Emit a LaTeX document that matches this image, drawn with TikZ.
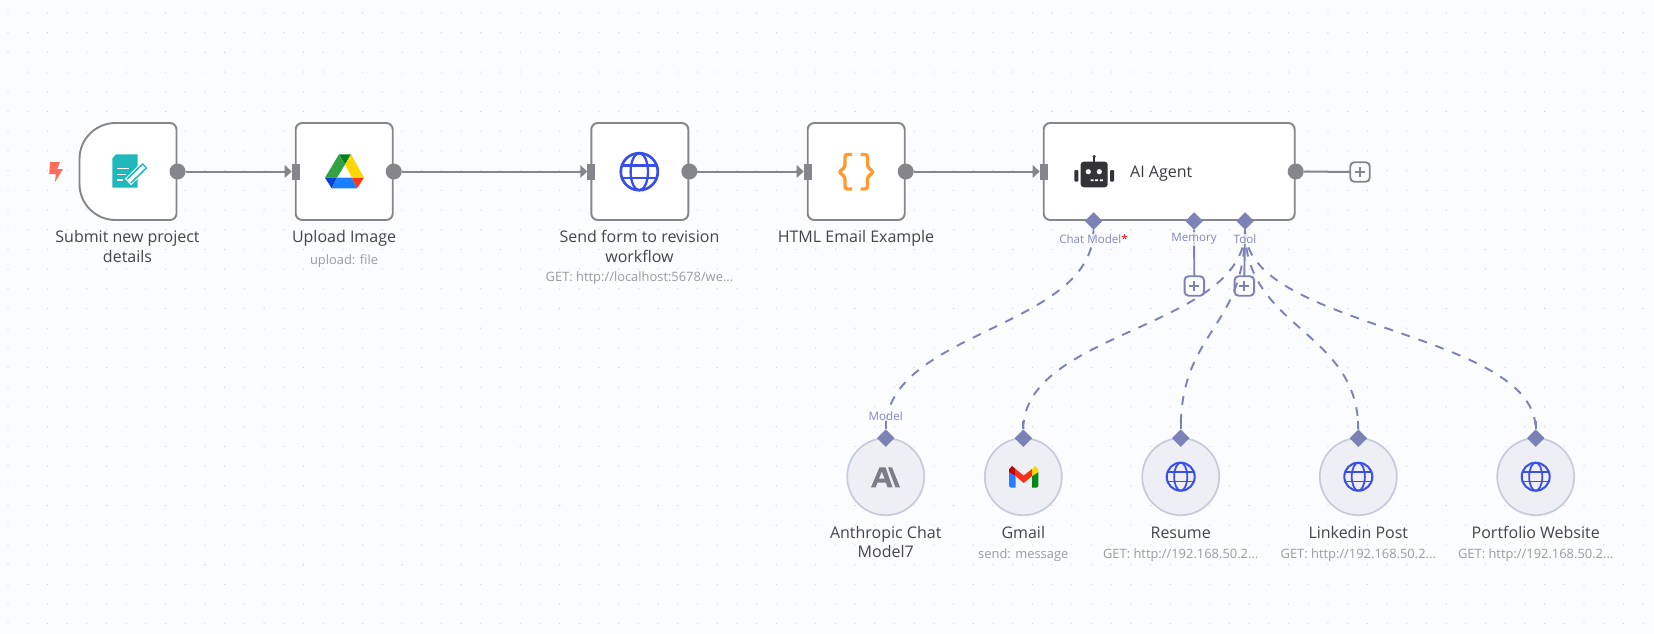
\documentclass[tikz,border=0pt]{standalone}
\usepackage{fontspec}
\setmainfont{Open Sans}
\usetikzlibrary{arrows.meta,shapes.geometric,calc}
\definecolor{bgc}{HTML}{FBFCFE}
\definecolor{griddot}{HTML}{CDD0D6}
\definecolor{edgec}{HTML}{85858C}
\definecolor{portc}{HTML}{7C82B6}
\definecolor{txtc}{HTML}{44444A}
\definecolor{subc}{HTML}{9A9AA1}
\definecolor{labc}{HTML}{8287BC}
\definecolor{circf}{HTML}{EEEFF4}
\definecolor{circd}{HTML}{C6CBDB}
\definecolor{globec}{HTML}{3A4EE8}
\definecolor{teal1}{HTML}{1FB9BC}
\definecolor{boltc}{HTML}{FF6D5A}
\definecolor{bracec}{HTML}{FF9B2E}
\definecolor{robotc}{HTML}{333338}
\definecolor{anthc}{HTML}{7D7D87}
\tikzset{
 card/.style={draw=edgec,line width=1.9pt,fill=white,rounded corners=6.5pt,minimum height=97pt,inner sep=0pt,outer sep=0pt},
 outport/.style={circle,fill=edgec,minimum size=16pt,inner sep=0pt,outer sep=0pt},
 inport/.style={rectangle,fill=edgec,minimum width=8pt,minimum height=16pt,inner sep=0pt,outer sep=0pt},
 flow/.style={draw=edgec,line width=2pt,-{Triangle[length=7pt,width=12.5pt,fill=edgec]}},
 dia/.style={diamond,aspect=1,fill=portc,minimum size=17.5pt,inner sep=0pt,outer sep=0pt},
 dashc/.style={draw=portc,line width=1.9pt,dash pattern=on 9pt off 9pt},
 solidc/.style={draw=portc,line width=1.9pt},
 tool/.style={circle,draw=circd,fill=circf,line width=1.7pt,minimum size=77pt,inner sep=0pt,outer sep=0pt},
 plusbox/.style={rectangle,draw=#1,fill=bgc,line width=1.9pt,rounded corners=4pt,minimum size=19.5pt,inner sep=0pt,outer sep=0pt,
   path picture={\draw[#1,line width=1.9pt] (path picture bounding box.center) ++(-5pt,0pt) -- ++(10pt,0pt);
                 \draw[#1,line width=1.9pt] (path picture bounding box.center) ++(0pt,-5pt) -- ++(0pt,10pt);}},
 lab/.style={text=txtc,align=center,inner sep=0pt,font=\fontsize{16}{19.6}\selectfont},
 sublab/.style={text=subc,inner sep=0pt,font=\fontsize{12.9}{15}\selectfont},
 portlab/.style={text=labc,inner sep=1pt,font=\fontsize{11.6}{14}\selectfont,fill=bgc,fill opacity=.75,text opacity=1},
}
\newcommand{\globeicon}[3]{%
 \begin{scope}[shift={(#1,#2)}]
  \draw[globec,line width=#3*0.145pt] (0,0) circle[radius=#3 pt];
  \draw[globec,line width=#3*0.125pt] (0,0) ellipse[x radius=#3*0.47pt,y radius=#3 pt];
  \draw[globec,line width=#3*0.125pt] (-#3*0.92,-#3*0.34) -- (#3*0.92,-#3*0.34);
  \draw[globec,line width=#3*0.125pt] (-#3*0.92,#3*0.34) -- (#3*0.92,#3*0.34);
 \end{scope}}
\begin{document}
\begin{tikzpicture}[x=1pt,y=-1pt]
\useasboundingbox (0,0) rectangle (1654,634);
\fill[bgc] (0,0) rectangle (1654,634);
% dotted grid
\foreach \i in {0,...,83}{\foreach \j in {0,...,31}{
 \fill[griddot] ({8+19.7*\i},{13+19.7*\j}) circle[radius=0.65pt];}}
% cards
\node[minimum width=97pt,minimum height=97pt,inner sep=0pt,outer sep=0pt] (n1) at (128,171.5) {};
\draw[draw=edgec,line width=1.9pt,fill=white]
 (176.5,129.5) -- (176.5,213.5) .. controls (176.5,217.1) and (173.6,220) .. (170,220)
 -- (115.5,220) .. controls (95.6,220) and (79.5,203.9) .. (79.5,184)
 -- (79.5,159) .. controls (79.5,139.1) and (95.6,123) .. (115.5,123)
 -- (170,123) .. controls (173.6,123) and (176.5,125.9) .. (176.5,129.5) -- cycle;
\node[card,minimum width=97pt] (n2) at (344.2,171.5) {};
\node[card,minimum width=97pt] (n3) at (639.8,171.5) {};
\node[card,minimum width=97pt] (n4) at (856.2,171.5) {};
\node[card,minimum width=251pt] (n5) at (1169.2,171.5) {};
% ports
\node[outport] (n1o) at ($(n1.east)+(1,0)$) {};
\node[outport] (n2o) at ($(n2.east)+(1,0)$) {};
\node[outport] (n3o) at ($(n3.east)+(1,0)$) {};
\node[outport] (n4o) at ($(n4.east)+(1,0)$) {};
\node[outport] (n5o) at ($(n5.east)+(1,0)$) {};
\node[inport] (n2i) at (n2.west) {};
\node[inport] (n3i) at (n3.west) {};
\node[inport] (n4i) at (n4.west) {};
\node[inport] (n5i) at (n5.west) {};
\draw[flow] (n1o) -- (n2i);
\draw[flow] (n2o) -- (n3i);
\draw[flow] (n3o) -- (n4i);
\draw[flow] (n4o) -- (n5i);
\node[plusbox=edgec] (pout) at (1360,172) {};
\draw[draw=edgec,line width=2pt] (n5o) -- (pout);
% bolt
\fill[boltc] (50,162) -- (60,162) -- (57.3,169) -- (63,169) -- (55,182) -- (55.8,174) -- (49.2,174) -- cycle;
% form icon
\fill[teal1] (116,154.3) -- (137.7,154.3) -- (137.7,187.7) -- (112.3,187.7) -- (112.3,158.5) -- cycle;
\fill[white] (112.3,154.3) -- (114.5,154.3) -- (112.3,156.5) -- cycle;
\draw[white,line width=1.6pt] (117,168.3) -- (129,168.3) (117,174.3) -- (126,174.3) (117,180) -- (123,180);
\draw[white,line width=9pt] (128,182) -- (145,165.5);
\draw[teal1,line width=7pt] (129,181) -- (145,165.5);
\draw[white,line width=3.6pt] (128.5,181.5) -- (144,166.5);
% drive icon
\fill[green!50!black!70!teal] (339,154.3) -- (351,154.3) -- (345,164.5) -- cycle;
\fill[green!55!black!85!teal!80!white] (339,154.3) -- (345,164.5) -- (337,177.7) -- (325,177.7) -- cycle;
\fill[blue!70!cyan!85!black] (325,177.7) -- (337,177.7) -- (331.7,188.3) -- cycle;
\fill[blue!55!cyan!90!white] (337,177.7) -- (352,177.7) -- (357,188.3) -- (331.7,188.3) -- cycle;
\fill[red!75!orange!90!white] (352,177.7) -- (364,177.7) -- (357,188.3) -- cycle;
\fill[yellow!75!orange] (351,154.3) -- (364,177.7) -- (352,177.7) -- (345,164.5) -- cycle;
% globe
\globeicon{639.3}{171.7}{18.5}
% braces
\draw[bracec,line width=3.4pt,rounded corners=2.5pt]
 (852,154.5) -- (845,154.5) -- (845,167) -- (839,172) -- (845,177) -- (845,189) -- (852,189);
\draw[bracec,line width=3.4pt,rounded corners=2.5pt]
 (860.5,154.5) -- (867.5,154.5) -- (867.5,167) -- (873.5,172) -- (867.5,177) -- (867.5,189) -- (860.5,189);
% robot
\fill[robotc,rounded corners=3pt] (1080.7,161.7) rectangle (1107.7,187.3);
\fill[robotc] (1093,156) rectangle (1095.4,162);
\fill[robotc] (1094.2,156.5) circle[radius=1.7pt];
\fill[robotc,rounded corners=1pt] (1074.3,170) rectangle (1078.3,181.7);
\fill[robotc,rounded corners=1pt] (1110,170) rectangle (1114,181.7);
\fill[white] (1088.3,171.7) circle[radius=2.6pt] (1099.3,171.7) circle[radius=2.6pt];
\fill[white] (1090.5,179.4) rectangle (1093.5,181.2) (1095.2,179.4) rectangle (1098.2,181.2) (1099.8,179.4) rectangle (1102.8,181.2);
\node[lab,anchor=west,text=txtc!85!black] (agentlab) at (1130,173.5) {AI Agent};
% agent diamonds
\node[dia] (dchat) at (1093.5,221) {};
\node[dia] (dmem) at (1194,221) {};
\node[dia] (dtool) at (1245,221) {};
% tool circles
\node[tool] (cA) at (885.7,476.7) {};
\node[tool] (cG) at (1023.3,476.7) {};
\node[tool] (cR) at (1180.7,476.7) {};
\node[tool] (cL) at (1358.3,476.7) {};
\node[tool] (cP) at (1535.7,476.7) {};
\node[dia] (dA) at (cA.north) {};
\node[dia] (dG) at (cG.north) {};
\node[dia] (dR) at (cR.north) {};
\node[dia] (dL) at (cL.north) {};
\node[dia] (dP) at (cP.north) {};
% plus
\node[plusbox=portc] (pmem) at (1194.3,286) {};
\node[plusbox=portc] (ptool) at (1244.3,286) {};
\draw[solidc] (dmem.south) -- (pmem.north);
\draw[solidc] (dtool.south) -- (ptool.north);
% curved connectors
\draw[dashc] (dchat.south) .. controls ($(dchat.south)+(0,99)$) and ($(dA.north)+(0,-99)$) .. (dA.north);
\draw[dashc] (dtool.south) .. controls ($(dtool.south)+(0,99)$) and ($(dG.north)+(0,-99)$) .. (dG.north);
\draw[dashc] (dtool.south) .. controls ($(dtool.south)+(0,99)$) and ($(dR.north)+(0,-99)$) .. (dR.north);
\draw[dashc] (dtool.south) .. controls ($(dtool.south)+(0,99)$) and ($(dL.north)+(0,-99)$) .. (dL.north);
\draw[dashc] (dtool.south) .. controls ($(dtool.south)+(0,99)$) and ($(dP.north)+(0,-99)$) .. (dP.north);
% solid stubs beside the diamonds
\draw[solidc] (dA.north) -- ++(0,-8);
\draw[solidc] (dG.north) -- ++(0,-8);
\draw[solidc] (dR.north) -- ++(0,-8);
\draw[solidc] (dL.north) -- ++(0,-8);
\draw[solidc] (dP.north) -- ++(0,-8);
% port labels
\node[portlab] (lchat) at (1093.5,239) {Chat Model\textcolor{red}{*}};
\node[portlab] (lmem) at (1194,239) {Memory};
\node[portlab] (ltool) at (1245,239) {Tool};
\node[portlab] (lmodel) at (885.7,415.7) {Model};
% circle icons
\fill[anthc,even odd rule] (871,487.3) -- (879.5,467.3) -- (885.5,467.3) -- (892.5,487.3) -- (887.5,487.3) -- (885.8,482.5) -- (877.5,482.5) -- (875.7,487.3) -- cycle
 (879,478.5) -- (884.5,478.5) -- (881.8,471.5) -- cycle;
\fill[anthc] (888,467.3) -- (892,467.3) -- (900,487.3) -- (895.5,487.3) -- cycle;
% gmail
\fill[blue!60!cyan!85!white] (1009,472) -- (1015.5,476) -- (1015.5,487.5) -- (1010.5,487.5) -- (1009,486) -- cycle;
\fill[green!55!black!85!teal] (1032,476) -- (1038.3,472) -- (1038.3,486) -- (1037,487.5) -- (1032,487.5) -- cycle;
\fill[red!80!orange!90!white] (1015.5,469) -- (1023.7,475.5) -- (1032,469) -- (1032,476) -- (1023.7,483) -- (1015.5,476) -- cycle;
\fill[red!75!black] (1009,472) -- (1009,469.5) -- (1012,466) -- (1015.5,469) -- (1015.5,476) -- cycle;
\fill[yellow!75!orange] (1032,469) -- (1035.3,466) -- (1038.3,469.5) -- (1038.3,472) -- (1032,476) -- cycle;
\globeicon{1180.7}{476.7}{14}
\globeicon{1358.3}{476.7}{14}
\globeicon{1535.7}{476.7}{14}
% labels
\node[lab] (t1) at (127.5,246.5) {Submit new project\\details};
\node[lab] (t2) at (344,238.5) {Upload Image};
\node[sublab] (s2) at (344,261) {upload: file};
\node[lab] (t3) at (639.5,246.5) {Send form to revision\\workflow};
\node[sublab] (s3) at (639.5,278.5) {GET: http://localhost:5678/we...};
\node[lab] (t4) at (856,238.5) {HTML Email Example};
\node[lab] (tA) at (885.7,542) {Anthropic Chat\\Model7};
\node[lab] (tG) at (1023.3,532.5) {Gmail};
\node[sublab] (sG) at (1023.3,555) {send: message};
\node[lab] (tR) at (1180.7,532.5) {Resume};
\node[sublab] (sR) at (1180.7,555) {GET: http://192.168.50.2...};
\node[lab] (tL) at (1358.3,532.5) {Linkedin Post};
\node[sublab] (sL) at (1358.3,555) {GET: http://192.168.50.2...};
\node[lab] (tP) at (1535.7,532.5) {Portfolio Website};
\node[sublab] (sP) at (1535.7,555) {GET: http://192.168.50.2...};
\end{tikzpicture}
\end{document}
